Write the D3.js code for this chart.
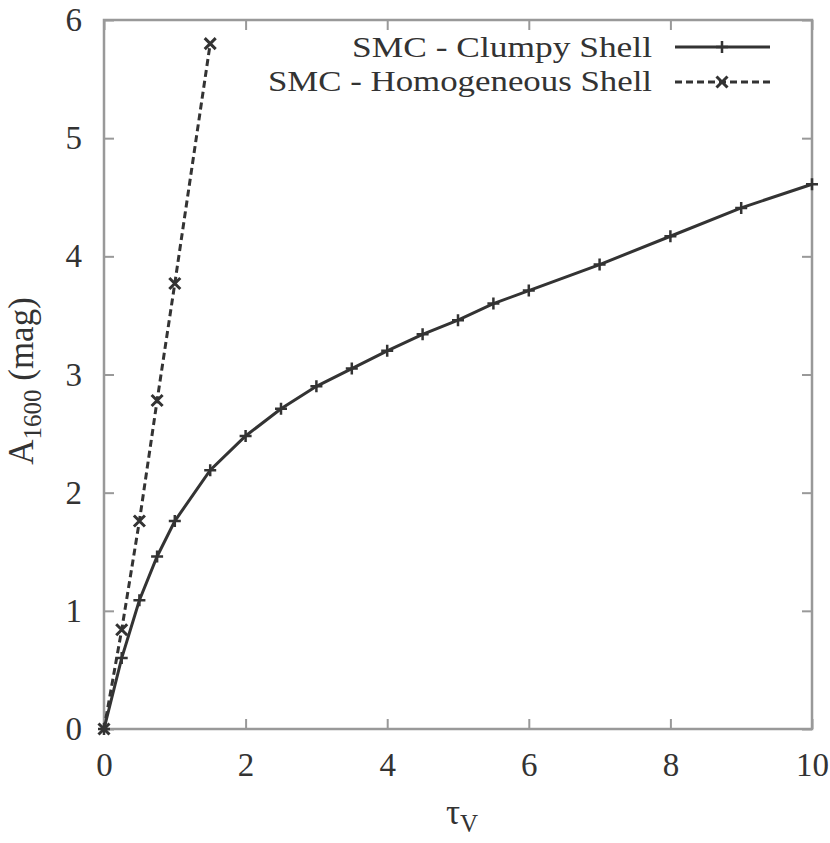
<!DOCTYPE html>
<html><head><meta charset="utf-8">
<script src="https://cdn.jsdelivr.net/npm/d3@7"></script>
<style>body{margin:0;background:#fff}svg{display:block}</style>
</head><body>
<svg id="c" width="830" height="843"></svg>
<script>
const clumpyTau = [0,0.25,0.5,0.75,1,1.5,2,2.5,3,3.5,4,4.5,5,5.5,6,7,8,9,10];
const clumpyA   = [0,0.60,1.09,1.46,1.76,2.19,2.48,2.71,2.90,3.05,3.20,3.34,3.46,3.60,3.71,3.93,4.17,4.41,4.61];
const homTau = [0,0.25,0.5,0.75,1,1.5];
const homA   = [0,0.84,1.76,2.78,3.77,5.80];
const xTicks = [0,2,4,6,8,10];
const yTicks = [0,1,2,3,4,5,6];
const seriesNames = ["SMC - Clumpy Shell","SMC - Homogeneous Shell"];

const svg = d3.select("#c");
const L=104,R=812,T=20,B=729;
const x = d3.scaleLinear().domain([0,10]).range([L,R]);
const y = d3.scaleLinear().domain([0,6]).range([B,T]);
const font = "'Liberation Serif', 'DejaVu Serif', serif";
const frame = "#999", ink = "#333";

// axes with inner ticks
const tl = 10;
svg.append("g").attr("transform",`translate(0,${B})`)
  .call(d3.axisBottom(x).tickValues(xTicks).tickSize(-tl).tickPadding(24).tickFormat(d3.format("d")))
  .call(g=>{g.select(".domain").remove();});
svg.append("g").attr("transform",`translate(0,${T})`)
  .call(d3.axisTop(x).tickValues(xTicks).tickSize(-tl).tickFormat(""))
  .call(g=>{g.select(".domain").remove();});
svg.append("g").attr("transform",`translate(${L},0)`)
  .call(d3.axisLeft(y).tickValues(yTicks).tickSize(-tl).tickPadding(22).tickFormat(d3.format("d")))
  .call(g=>{g.select(".domain").remove();});
svg.append("g").attr("transform",`translate(${R},0)`)
  .call(d3.axisRight(y).tickValues(yTicks).tickSize(-tl).tickFormat(""))
  .call(g=>{g.select(".domain").remove();});
svg.selectAll(".tick line").attr("stroke",frame).attr("stroke-width",2);
svg.selectAll(".tick text").attr("font-family",font).attr("font-size",33).attr("fill",ink);
svg.append("rect").attr("x",L).attr("y",T).attr("width",R-L).attr("height",B-T)
  .attr("fill","none").attr("stroke",frame).attr("stroke-width",2.5);

// series
const line = d3.line().x(d=>x(d[0])).y(d=>y(d[1]));
const clumpy = clumpyTau.map((t,i)=>[t,clumpyA[i]]);
const hom = homTau.map((t,i)=>[t,homA[i]]);
const plus = (g,cx,cy,s)=>g.append("path").attr("d",`M${cx-s},${cy}H${cx+s}M${cx},${cy-s}V${cy+s}`)
  .attr("stroke",ink).attr("stroke-width",2.5).attr("fill","none");
const cross = (g,cx,cy,s)=>g.append("path").attr("d",`M${cx-s},${cy-s}L${cx+s},${cy+s}M${cx-s},${cy+s}L${cx+s},${cy-s}`)
  .attr("stroke",ink).attr("stroke-width",3).attr("fill","none");

const gp = svg.append("g");
gp.append("path").datum(hom).attr("d",line).attr("fill","none").attr("stroke",ink)
  .attr("stroke-width",3).attr("stroke-dasharray","7,4");
gp.append("path").datum(clumpy).attr("d",line).attr("fill","none").attr("stroke",ink)
  .attr("stroke-width",3);
clumpy.forEach(d=>plus(gp,x(d[0]),y(d[1]),6));
hom.forEach(d=>cross(gp,x(d[0]),y(d[1]),5.5));

// legend
const lg = svg.append("g");
const legY=[47,82], legBase=[57,91], legW=[300,384];
seriesNames.forEach((n,i)=>{
  lg.append("text").attr("x",652).attr("y",legBase[i]).attr("text-anchor","end")
    .attr("font-family",font).attr("font-size",30).attr("fill",ink)
    .attr("textLength",legW[i]).attr("lengthAdjust","spacingAndGlyphs").text(n);
  lg.append("line").attr("x1",675).attr("x2",770).attr("y1",legY[i]).attr("y2",legY[i])
    .attr("stroke",ink).attr("stroke-width",3).attr("stroke-dasharray",i?"7,4":null);
  if(i===0) plus(lg,722,legY[i],6); else cross(lg,722,legY[i],5.5);
});

// axis titles
const yt = svg.append("text").attr("transform","translate(33,381) rotate(-90)")
  .attr("text-anchor","middle").attr("font-family",font).attr("font-size",35).attr("fill",ink);
yt.append("tspan").text("A");
yt.append("tspan").attr("font-size",25).attr("dy",8).text("1600");
yt.append("tspan").attr("dy",-8).text(" (mag)");
const xt = svg.append("text").attr("x",462).attr("y",824).attr("text-anchor","middle")
  .attr("font-family",font).attr("font-size",35).attr("fill",ink);
xt.append("tspan").text("τ");
xt.append("tspan").attr("font-size",25).attr("dy",8).text("V");
</script>
</body></html>
